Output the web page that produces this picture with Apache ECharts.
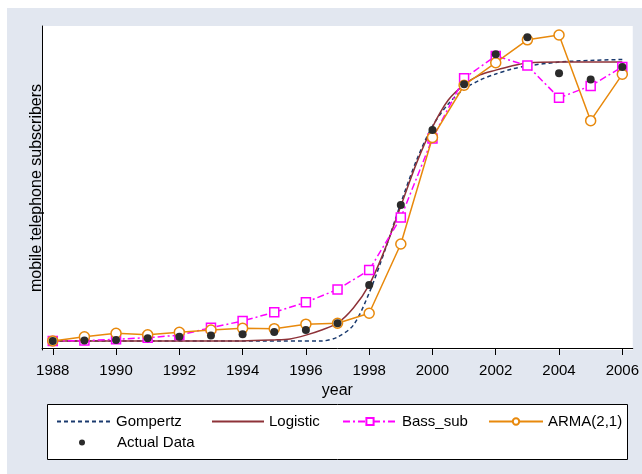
<!DOCTYPE html>
<html>
<head>
<meta charset="utf-8">
<script src="https://cdn.jsdelivr.net/npm/echarts@6/dist/echarts.min.js"></script>
<style>
  html, body { margin: 0; padding: 0; background: #fff; }
  #chart { width: 642px; height: 474px; }
</style>
</head>
<body>
<div id="chart"></div>
<script>
// yearly data (subscribers, arbitrary units)
var years = [1988, 1989, 1990, 1991, 1992, 1993, 1994, 1995, 1996, 1997,
  1998, 1999, 2000, 2001, 2002, 2003, 2004, 2005, 2006];
var actual = [2.2, 2.3, 2.5, 3.0, 3.5, 3.9, 4.3, 5.0, 5.6, 7.7,
  19.6, 44.4, 67.7, 81.9, 91.2, 96.5, 85.3, 83.4, 87.3];
var arma = [2.2, 3.5, 4.6, 4.1, 4.9, 5.6, 6.1, 6.0, 7.4, 7.7,
  10.8, 32.3, 65.4, 81.6, 88.6, 95.7, 97.2, 70.6, 85.0];
var bass = [2.2, 2.3, 2.7, 3.2, 4.0, 6.3, 8.4, 11.1, 14.2, 18.2,
  24.2, 40.5, 65.1, 83.8, 90.7, 87.7, 77.7, 81.4, 87.3];

// fitted curves, read at half years where they bend
var logisticX = [1988, 1994, 1995, 1995.5, 1996, 1996.5, 1997, 1997.5, 1998, 1998.5,
  1999, 1999.5, 2000, 2000.5, 2001, 2001.5, 2002, 2002.5, 2003, 2004, 2005, 2006];
var logistic = [2.2, 2.2, 2.5, 2.8, 4.0, 5.6, 7.7, 12.4, 19.6, 30.7,
  44.1, 57.5, 68.6, 77.0, 81.7, 84.8, 86.3, 87.6, 88.5, 88.8, 88.8, 88.8];
var gompertzX = [1988, 1996.5, 1997, 1997.5, 1998, 1998.5, 1999, 1999.5, 2000,
  2000.5, 2001, 2001.5, 2002, 2002.5, 2003, 2004, 2005, 2006];
var gompertz = [2.2, 2.2, 3.4, 7.1, 17.1, 30.4, 45.0, 58.4, 68.9,
  75.8, 80.4, 83.2, 85.1, 86.6, 87.6, 88.8, 89.3, 89.6];

var tickYears = [1988, 1990, 1992, 1994, 1996, 1998, 2000, 2002, 2004, 2006];

function pairs(xs, ys) {
  return xs.map(function (x, i) { return [x, ys[i]]; });
}

var font = "'Liberation Sans', Arial, sans-serif";

(function () {
  var myChart = echarts.init(document.getElementById("chart"));

  function legendAt(name, left, top, w, h, extra) {
    var lg = {
      data: [name],
      left: left,
      top: top,
      padding: 0,
      itemWidth: w,
      itemHeight: h,
      selectedMode: false,
      textStyle: { color: "#000", fontSize: 15, fontFamily: font }
    };
    for (var k in extra || {}) lg[k] = extra[k];
    return lg;
  }

  var option = {
    animation: false,
    textStyle: { fontFamily: font },
    graphic: [
      {
        type: "rect",
        z: -100,
        shape: { x: 7, y: 8, width: 635, height: 466 },
        style: { fill: "#e2e7f0" }
      },
      {
        type: "rect",
        z: 1,
        shape: { x: 47.5, y: 404.5, width: 580, height: 55 },
        style: { fill: "#fff", stroke: "#000", lineWidth: 1 }
      }
    ],
    legend: [
      legendAt("Gompertz", 56, 414, 54, 9, { itemStyle: { opacity: 0 } }),
      legendAt("Logistic", 211, 414, 52, 9, { itemStyle: { opacity: 0 } }),
      legendAt("Bass_sub", 342, 414, 54, 9),
      legendAt("ARMA(2,1)", 488, 414, 54, 8),
      legendAt("Actual Data", 79, 435, 6, 6, {
        textStyle: { color: "#000", fontSize: 15, fontFamily: font, padding: [0, 0, 0, 27] }
      })
    ],
    grid: {
      left: 42,
      right: 8,
      top: 26,
      bottom: 124,
      show: true,
      backgroundColor: "#fff",
      borderWidth: 0
    },
    xAxis: {
      type: "value",
      min: 1987.66,
      max: 2006.33,
      name: "year",
      nameLocation: "middle",
      nameGap: 27,
      nameTextStyle: { color: "#000", fontSize: 16, fontFamily: font },
      axisLine: { lineStyle: { color: "#000", width: 1 } },
      axisTick: { show: true, length: 7, customValues: tickYears, lineStyle: { color: "#000" } },
      axisLabel: {
        customValues: tickYears,
        formatter: function (v) { return String(v); },
        color: "#000",
        fontSize: 15,
        margin: 13,
        fontFamily: font
      },
      splitLine: { show: false }
    },
    yAxis: {
      type: "value",
      min: -0.62,
      max: 100,
      name: "mobile telephone subscribers",
      nameLocation: "middle",
      nameGap: -3,
      nameTextStyle: { color: "#000", fontSize: 16, fontFamily: font },
      axisLine: { show: true, lineStyle: { color: "#000", width: 1 } },
      axisTick: { show: false },
      axisLabel: { show: false },
      splitLine: { show: false }
    },
    series: [
      {
        name: "Gompertz",
        type: "line",
        data: pairs(gompertzX, gompertz),
        smooth: 0.3,
        symbol: "none",
        color: "#1a3a6e",
        lineStyle: { color: "#1a3a6e", width: 1.5, type: [4, 3] },
        z: 2
      },
      {
        name: "Logistic",
        type: "line",
        data: pairs(logisticX, logistic),
        smooth: 0.3,
        symbol: "none",
        color: "#8e3238",
        lineStyle: { color: "#8e3238", width: 1.5 },
        z: 3
      },
      {
        name: "Bass_sub",
        type: "line",
        data: pairs(years, bass),
        symbol: "rect",
        symbolSize: 9,
        color: "#ff00ff",
        itemStyle: { color: "#fff", borderColor: "#ff00ff", borderWidth: 1.5 },
        lineStyle: { color: "#ff00ff", width: 1.5, type: [7, 3, 2, 3] },
        z: 4
      },
      {
        name: "ARMA(2,1)",
        type: "line",
        data: pairs(years, arma),
        symbol: "circle",
        symbolSize: 10,
        color: "#e8890c",
        itemStyle: { color: "#fff", borderColor: "#e8890c", borderWidth: 1.5 },
        lineStyle: { color: "#e8890c", width: 1.5 },
        z: 5
      },
      {
        name: "Actual Data",
        type: "scatter",
        data: pairs(years, actual),
        symbol: "circle",
        symbolSize: 8,
        itemStyle: { color: "#2b2b2b", opacity: 1 },
        z: 6
      }
    ]
  };
  myChart.setOption(option);
  window.addEventListener("resize", function () {
    myChart.resize();
  });
})();
</script>
</body>
</html>
